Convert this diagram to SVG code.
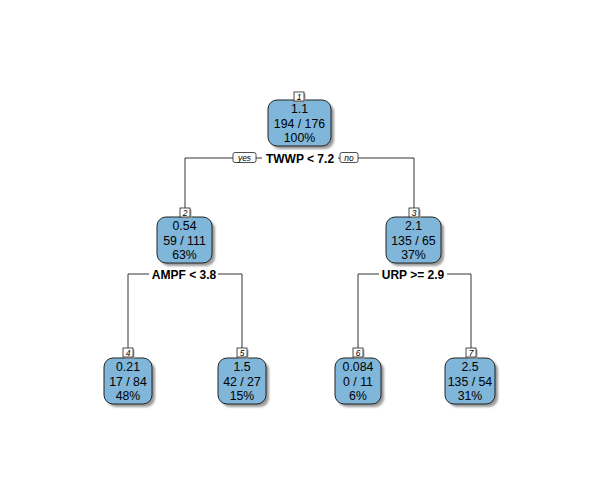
<svg xmlns="http://www.w3.org/2000/svg" width="600" height="500" viewBox="0 0 600 500">
  <defs>
    <filter id="soft" x="-20%" y="-20%" width="140%" height="140%">
      <feGaussianBlur stdDeviation="1"/>
    </filter>
  </defs>
  <style>
    .box { fill: #7fb6d9; stroke: #222; stroke-width: 1; }
    .shadow { fill: #9a9a9a; filter: url(#soft); }
    .tag { fill: #fff; stroke: #222; stroke-width: 0.8; }
    .tagshadow { fill: #a8a8a8; }
    .val { font-family: "Liberation Sans", Arial, sans-serif; font-size: 12.3px; fill: #000; text-anchor: middle; }
    .num { font-family: "Liberation Sans", Arial, sans-serif; font-size: 8.5px; font-style: italic; fill: #000; text-anchor: middle; }
    .split { font-family: "Liberation Sans", Arial, sans-serif; font-size: 12px; font-weight: bold; fill: #000; text-anchor: middle; }
    .yn { font-family: "Liberation Sans", Arial, sans-serif; font-size: 8.5px; font-style: italic; fill: #000; text-anchor: middle; }
    .edge { fill: none; stroke: #000; stroke-width: 0.8; }
  </style>
  <rect width="600" height="500" fill="#fff"/>

  <!-- branches -->
  <g id="connectors">
    <polyline class="edge" points="185,208 185,158 414,158 414,208"/>
    <polyline class="edge" points="128,348 128,274 242,274 242,348"/>
    <polyline class="edge" points="358,348 358,274 471,274 471,348"/>
  </g>

  <!-- split labels -->
  <g id="split-1">
    <rect x="262" y="151" width="76" height="14" fill="#fff"/>
    <text class="split" x="300" y="162.5">TWWP &lt; 7.2</text>
    <rect x="233" y="152.5" width="23" height="10" rx="2" class="tag"/>
    <text class="yn" x="244.5" y="160.5">yes</text>
    <rect x="340" y="152.5" width="18" height="10" rx="2" class="tag"/>
    <text class="yn" x="349" y="160.5">no</text>
  </g>
  <g id="split-2">
    <rect x="149" y="267" width="69" height="14" fill="#fff"/>
    <text class="split" x="184" y="278.5">AMPF &lt; 3.8</text>
  </g>
  <g id="split-3">
    <rect x="379" y="267" width="68" height="14" fill="#fff"/>
    <text class="split" x="413" y="278.5">URP &gt;= 2.9</text>
  </g>

  <!-- node 1 -->
  <g id="node-1">
    <rect x="271" y="103" width="63" height="46" rx="9" class="shadow"/>
    <rect x="268" y="100" width="63" height="46" rx="9" class="box"/>
    <rect x="295.5" y="93.5" width="10" height="9" class="tagshadow"/>
    <rect x="294" y="92" width="10" height="9" class="tag"/>
    <text class="num" x="299" y="99.6">1</text>
    <text class="val" x="299.5" y="113">1.1</text>
    <text class="val" x="299.5" y="127.5">194 / 176</text>
    <text class="val" x="299.5" y="142">100%</text>
  </g>

  <!-- node 2 -->
  <g id="node-2">
    <rect x="160" y="220" width="55" height="46" rx="9" class="shadow"/>
    <rect x="157" y="217" width="55" height="46" rx="9" class="box"/>
    <rect x="181.5" y="209.5" width="10" height="9" class="tagshadow"/>
    <rect x="180" y="208" width="10" height="9" class="tag"/>
    <text class="num" x="185" y="215.6">2</text>
    <text class="val" x="184.5" y="230">0.54</text>
    <text class="val" x="184.5" y="244.5">59 / 111</text>
    <text class="val" x="184.5" y="259">63%</text>
  </g>

  <!-- node 3 -->
  <g id="node-3">
    <rect x="389" y="220" width="55" height="46" rx="9" class="shadow"/>
    <rect x="386" y="217" width="55" height="46" rx="9" class="box"/>
    <rect x="410.5" y="209.5" width="10" height="9" class="tagshadow"/>
    <rect x="409" y="208" width="10" height="9" class="tag"/>
    <text class="num" x="414" y="215.6">3</text>
    <text class="val" x="413.5" y="230">2.1</text>
    <text class="val" x="413.5" y="244.5">135 / 65</text>
    <text class="val" x="413.5" y="259">37%</text>
  </g>

  <!-- node 4 -->
  <g id="node-4">
    <rect x="107" y="361" width="48" height="46" rx="9" class="shadow"/>
    <rect x="104" y="358" width="48" height="46" rx="9" class="box"/>
    <rect x="124.5" y="349.5" width="10" height="9" class="tagshadow"/>
    <rect x="123" y="348" width="10" height="9" class="tag"/>
    <text class="num" x="128" y="355.6">4</text>
    <text class="val" x="128" y="371">0.21</text>
    <text class="val" x="128" y="385.5">17 / 84</text>
    <text class="val" x="128" y="400">48%</text>
  </g>

  <!-- node 5 -->
  <g id="node-5">
    <rect x="221" y="361" width="48" height="46" rx="9" class="shadow"/>
    <rect x="218" y="358" width="48" height="46" rx="9" class="box"/>
    <rect x="238.5" y="349.5" width="10" height="9" class="tagshadow"/>
    <rect x="237" y="348" width="10" height="9" class="tag"/>
    <text class="num" x="242" y="355.6">5</text>
    <text class="val" x="242" y="371">1.5</text>
    <text class="val" x="242" y="385.5">42 / 27</text>
    <text class="val" x="242" y="400">15%</text>
  </g>

  <!-- node 6 -->
  <g id="node-6">
    <rect x="338" y="361" width="46" height="46" rx="9" class="shadow"/>
    <rect x="335" y="358" width="46" height="46" rx="9" class="box"/>
    <rect x="354.5" y="349.5" width="10" height="9" class="tagshadow"/>
    <rect x="353" y="348" width="10" height="9" class="tag"/>
    <text class="num" x="358" y="355.6">6</text>
    <text class="val" x="358" y="371">0.084</text>
    <text class="val" x="358" y="385.5">0 / 11</text>
    <text class="val" x="358" y="400">6%</text>
  </g>

  <!-- node 7 -->
  <g id="node-7">
    <rect x="448" y="361" width="50" height="46" rx="9" class="shadow"/>
    <rect x="445" y="358" width="50" height="46" rx="9" class="box"/>
    <rect x="467.5" y="349.5" width="10" height="9" class="tagshadow"/>
    <rect x="466" y="348" width="10" height="9" class="tag"/>
    <text class="num" x="471" y="355.6">7</text>
    <text class="val" x="470" y="371">2.5</text>
    <text class="val" x="470" y="385.5">135 / 54</text>
    <text class="val" x="470" y="400">31%</text>
  </g>
</svg>
